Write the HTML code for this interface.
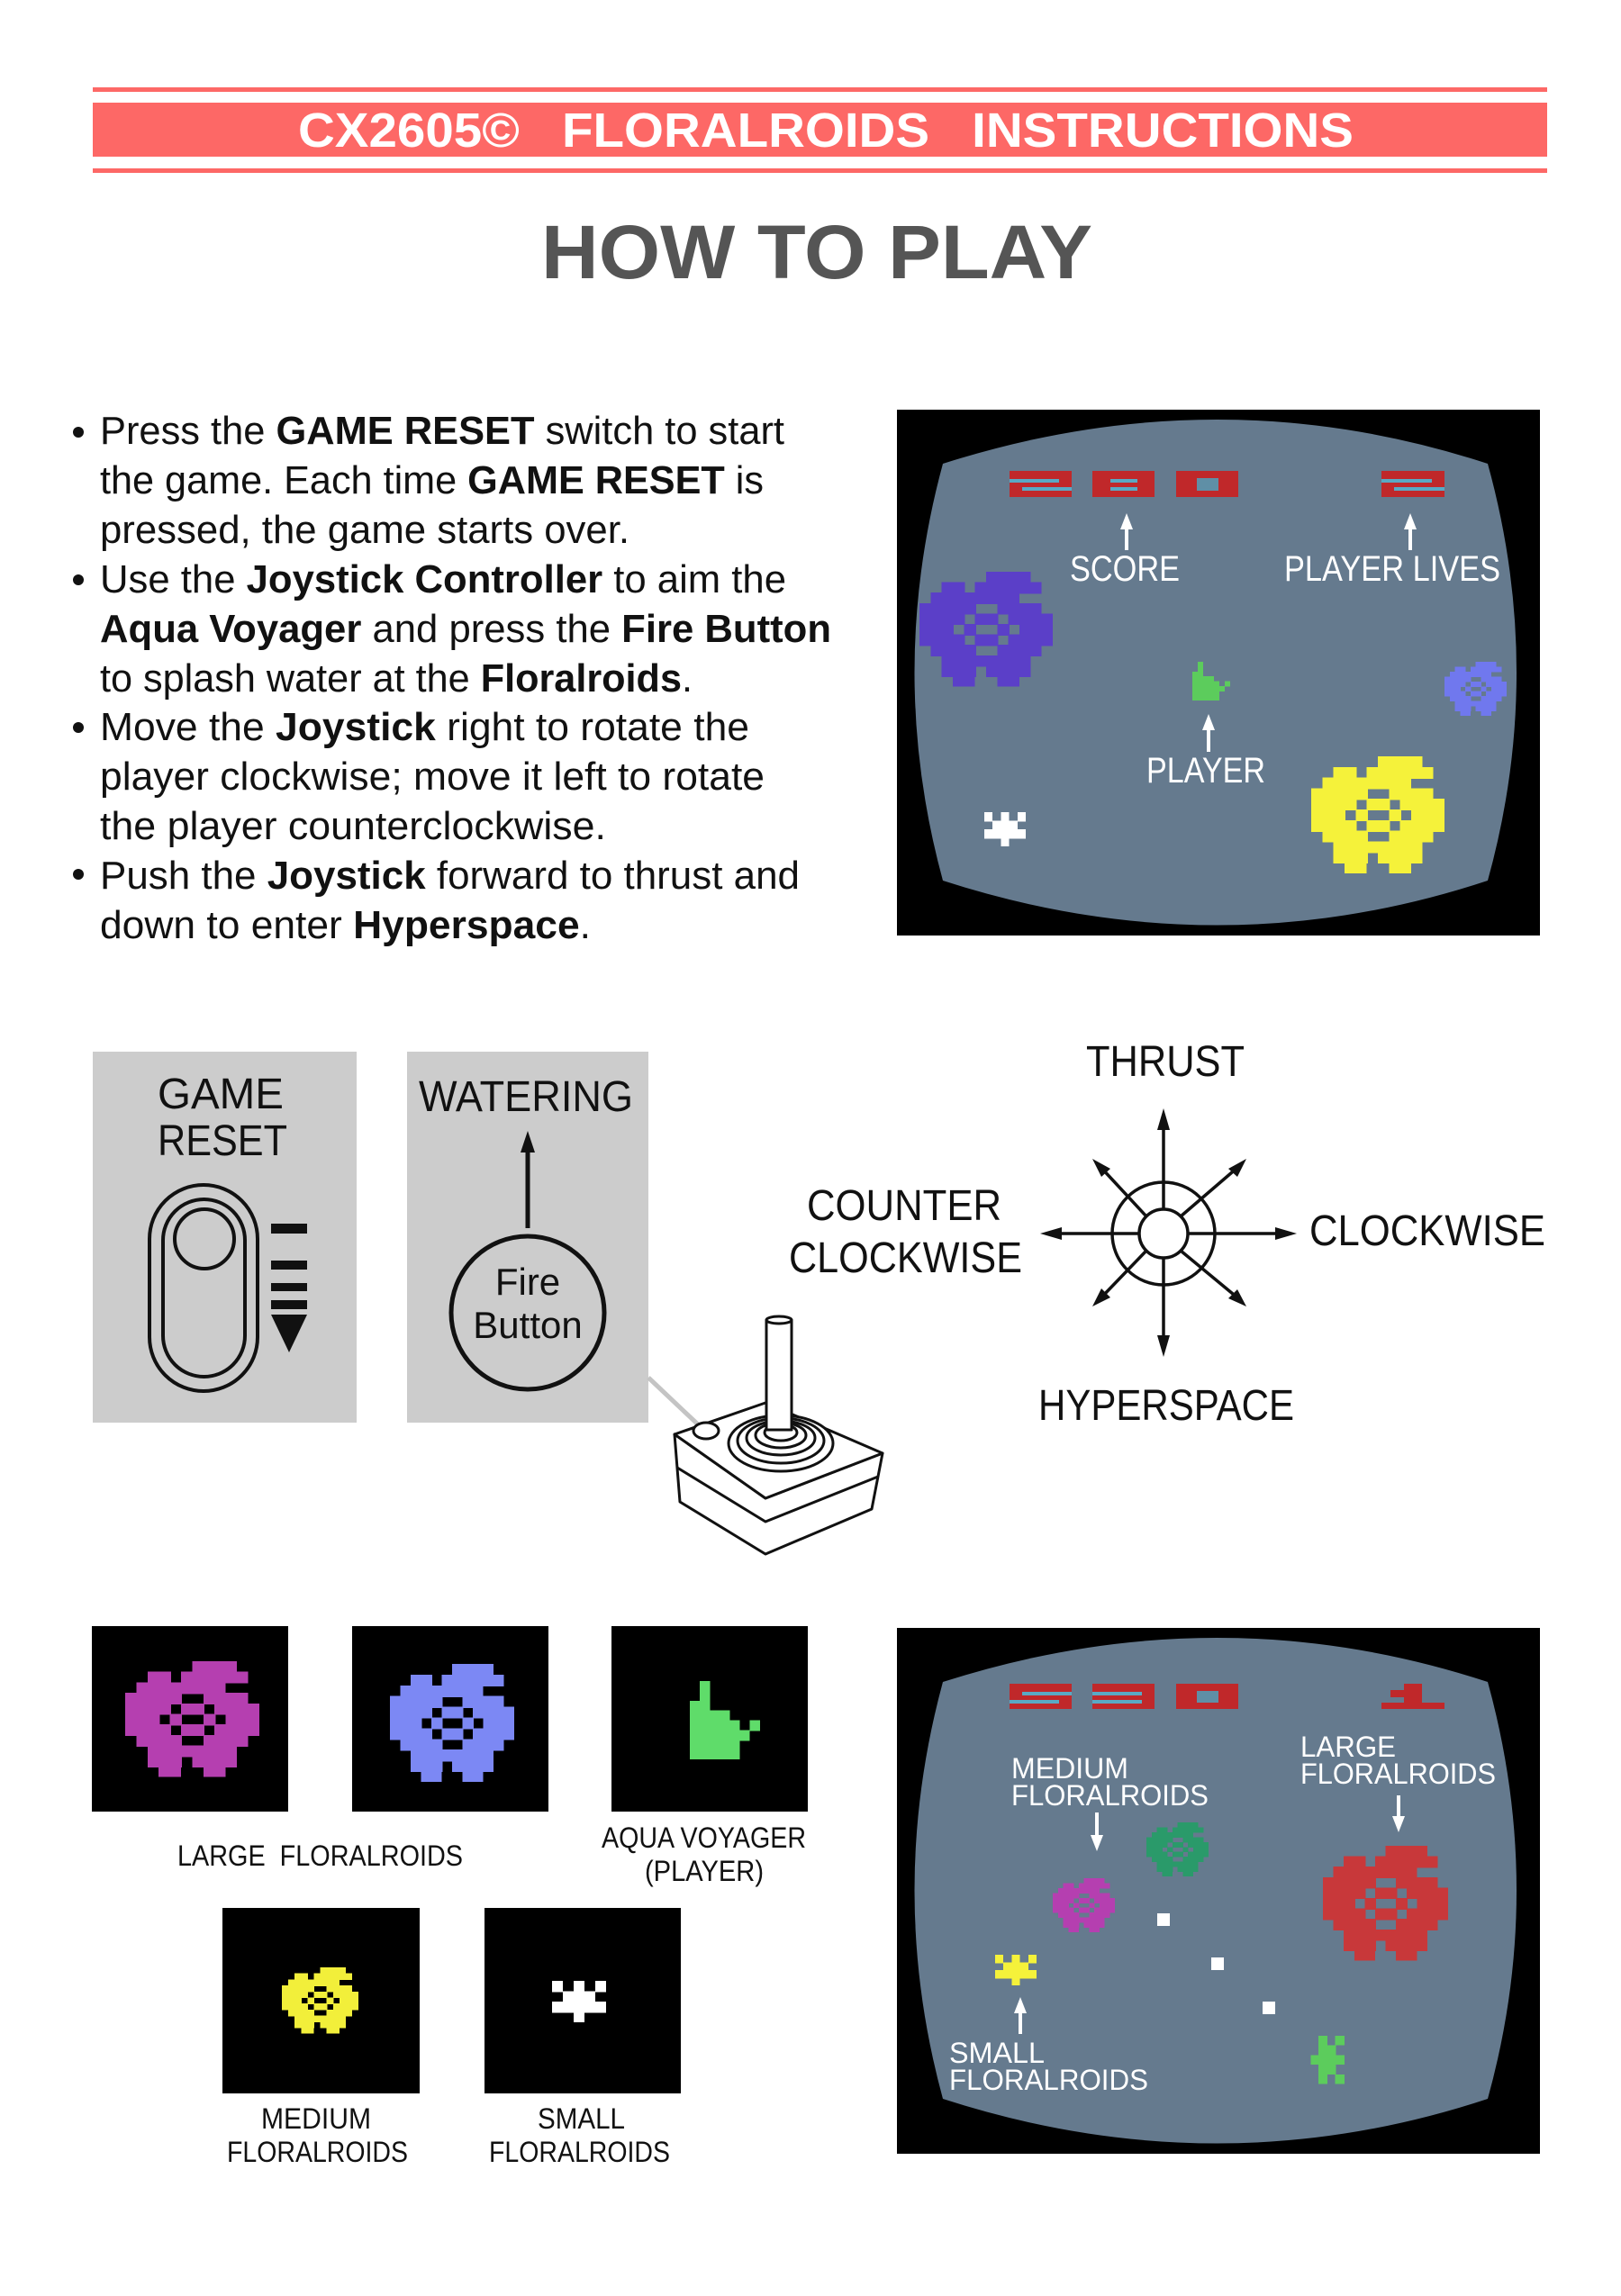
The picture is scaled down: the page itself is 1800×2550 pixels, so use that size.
<!DOCTYPE html>
<html><head><meta charset="utf-8"><style>
html,body{margin:0;padding:0;background:#fff}
svg{display:block}
text{font-family:"Liberation Sans",sans-serif}
</style></head><body>
<svg width="1800" height="2550" viewBox="0 0 1800 2550" xmlns="http://www.w3.org/2000/svg">
<defs>
<g id="fl" shape-rendering="crispEdges">
<rect x="6" y="0" width="4" height="1.1"/>
<rect x="2" y="1" width="2.1" height="1.1"/><rect x="5" y="1" width="6" height="1.1"/>
<rect x="1" y="2" width="8" height="1.1"/>
<rect x="0" y="3" width="5.1" height="1.1"/><rect x="7" y="3" width="4" height="1.1"/>
<rect x="0" y="4" width="4.1" height="1.1"/><rect x="5" y="4" width="2.1" height="1.1"/><rect x="8" y="4" width="4" height="1.1"/>
<rect x="0" y="5" width="3.1" height="1.1"/><rect x="4" y="5" width="1.1" height="1.1"/><rect x="7" y="5" width="1.1" height="1.1"/><rect x="9" y="5" width="3" height="1.1"/>
<rect x="0" y="6" width="4.1" height="1.1"/><rect x="5" y="6" width="2.1" height="1.1"/><rect x="8" y="6" width="4" height="1.1"/>
<rect x="1" y="7" width="4.1" height="1.1"/><rect x="7" y="7" width="4" height="1.1"/>
<rect x="2" y="8" width="8" height="1.1"/>
<rect x="2" y="9" width="3.1" height="1.1"/><rect x="6" y="9" width="4" height="1.1"/>
<rect x="3" y="10" width="2" height="1"/><rect x="7" y="10" width="2" height="1"/>
</g>
<g id="sm" shape-rendering="crispEdges">
<rect x="0" y="0" width="1" height="1.1"/><rect x="2" y="0" width="1" height="1.1"/><rect x="4" y="0" width="1" height="1.1"/>
<rect x="1" y="1" width="3" height="1.1"/><rect x="0" y="2" width="5" height="1.1"/><rect x="2" y="3" width="1" height="1"/>
</g>
<g id="pl" shape-rendering="crispEdges">
<rect x="2" y="0" width="1" height="2.1"/><rect x="1" y="2" width="2" height="1.1"/><rect x="1" y="3" width="4" height="1.1"/>
<rect x="1" y="4" width="5" height="1.1"/><rect x="7" y="4" width="1" height="1.1"/><rect x="1" y="5" width="6" height="1.1"/>
<rect x="1" y="6" width="5" height="2"/>
</g>
<path id="scr" d="M51,60 Q357,-38 656,60 Q720,292 656,523 Q357,622 51,523 Q-12,292 51,60 Z"/>
</defs>

<!-- Header -->
<rect x="103" y="97" width="1615" height="5" fill="#fd6866"/>
<rect x="103" y="114" width="1615" height="60" fill="#fd6866"/>
<rect x="103" y="187" width="1615" height="5" fill="#fd6866"/>
<text x="331" y="163" font-size="54" font-weight="bold" fill="#fff" textLength="1172" lengthAdjust="spacingAndGlyphs" xml:space="preserve">CX2605©   FLORALROIDS   INSTRUCTIONS</text>
<text x="601" y="309" font-size="84" font-weight="bold" fill="#555" textLength="612" lengthAdjust="spacingAndGlyphs">HOW TO PLAY</text>

<!-- Bullets -->
<g font-size="44" fill="#111">
<circle cx="87" cy="480" r="6"/><circle cx="87" cy="644" r="6"/><circle cx="87" cy="808" r="6"/><circle cx="87" cy="971" r="6"/>
<text x="111" y="493" textLength="760" lengthAdjust="spacingAndGlyphs">Press the <tspan font-weight="bold">GAME RESET</tspan> switch to start</text>
<text x="111" y="548" textLength="737" lengthAdjust="spacingAndGlyphs">the game. Each time <tspan font-weight="bold">GAME RESET</tspan> is</text>
<text x="111" y="603" textLength="588" lengthAdjust="spacingAndGlyphs">pressed, the game starts over.</text>
<text x="111" y="658" textLength="762" lengthAdjust="spacingAndGlyphs">Use the <tspan font-weight="bold">Joystick Controller</tspan> to aim the</text>
<text x="111" y="713" textLength="812" lengthAdjust="spacingAndGlyphs"><tspan font-weight="bold">Aqua Voyager</tspan> and press the <tspan font-weight="bold">Fire Button</tspan></text>
<text x="111" y="768" textLength="658" lengthAdjust="spacingAndGlyphs">to splash water at the <tspan font-weight="bold">Floralroids</tspan>.</text>
<text x="111" y="822" textLength="721" lengthAdjust="spacingAndGlyphs">Move the <tspan font-weight="bold">Joystick</tspan> right to rotate the</text>
<text x="111" y="877" textLength="738" lengthAdjust="spacingAndGlyphs">player clockwise; move it left to rotate</text>
<text x="111" y="932" textLength="562" lengthAdjust="spacingAndGlyphs">the player counterclockwise.</text>
<text x="111" y="987" textLength="777" lengthAdjust="spacingAndGlyphs">Push the <tspan font-weight="bold">Joystick</tspan> forward to thrust and</text>
<text x="111" y="1042" textLength="545" lengthAdjust="spacingAndGlyphs">down to enter <tspan font-weight="bold">Hyperspace</tspan>.</text>
</g>

<!-- Screen 1 -->
<g transform="translate(996,455)">
<rect width="714" height="584" fill="#000"/>
<use href="#scr" fill="#657a8e"/>
<g>
<rect x="125" y="68" width="69" height="29" fill="#c0282a"/><rect x="125" y="77" width="55" height="4" fill="#5aa9c4"/><rect x="139" y="86" width="55" height="4" fill="#5aa9c4"/>
<rect x="217" y="68" width="69" height="29" fill="#c0282a"/><rect x="237" y="77" width="30" height="4" fill="#5aa9c4"/><rect x="237" y="86" width="30" height="4" fill="#5aa9c4"/>
<rect x="310" y="68" width="69" height="29" fill="#c0282a"/><rect x="333" y="76" width="24" height="14" fill="#5f8fa6"/>
<rect x="538" y="68" width="70" height="29" fill="#c0282a"/><rect x="538" y="77" width="56" height="4" fill="#5aa9c4"/><rect x="552" y="86" width="56" height="4" fill="#5aa9c4"/>
</g>
<g fill="#fff" stroke="#fff">
<line x1="255" y1="125" x2="255" y2="156" stroke-width="4"/><path d="M248,133 L255,115 L262,133 Z" stroke="none"/>
<line x1="570" y1="125" x2="570" y2="156" stroke-width="4"/><path d="M563,133 L570,115 L577,133 Z" stroke="none"/>
<line x1="346" y1="348" x2="346" y2="380" stroke-width="4"/><path d="M339,356 L346,338 L353,356 Z" stroke="none"/>
</g>
<g fill="#fff" font-size="40">
<text x="192" y="190" textLength="122" lengthAdjust="spacingAndGlyphs">SCORE</text>
<text x="430" y="190" textLength="240" lengthAdjust="spacingAndGlyphs">PLAYER LIVES</text>
<text x="277" y="414" textLength="132" lengthAdjust="spacingAndGlyphs">PLAYER</text>
</g>
<use href="#fl" fill="#5b3fc8" transform="translate(25,180) scale(12.33,11.6)"/>
<use href="#fl" fill="#f5f23a" transform="translate(460,385) scale(12.33,11.8)"/>
<use href="#fl" fill="#7078ee" transform="translate(608,280) scale(5.75,5.45)"/>
<use href="#sm" fill="#fff" transform="translate(97,447) scale(9.2,9.5)"/>
<use href="#pl" fill="#5ccc5c" transform="translate(322,280) scale(6,5.4)"/>
</g>

<!-- Game reset box -->
<rect x="103" y="1168" width="293" height="412" fill="#cccccc"/>
<g font-size="48" fill="#111">
<text x="175" y="1231" textLength="140" lengthAdjust="spacingAndGlyphs">GAME</text>
<text x="175" y="1283" textLength="144" lengthAdjust="spacingAndGlyphs">RESET</text>
</g>
<g fill="none" stroke="#111" stroke-width="4">
<rect x="166" y="1316" width="120" height="229" rx="60"/>
<rect x="181" y="1332" width="91" height="197" rx="45.5"/>
<circle cx="227" cy="1376" r="33"/>
</g>
<g fill="#111">
<rect x="301" y="1359" width="40" height="11"/><rect x="301" y="1400" width="40" height="10"/><rect x="301" y="1425" width="40" height="9"/><rect x="301" y="1444" width="40" height="10"/>
<path d="M301,1460 L341,1460 L321,1502 Z"/>
</g>

<!-- Watering box -->
<rect x="452" y="1168" width="268" height="412" fill="#cccccc"/>
<text x="465" y="1234" font-size="48" fill="#111" textLength="238" lengthAdjust="spacingAndGlyphs">WATERING</text>
<line x1="586" y1="1275" x2="586" y2="1364" stroke="#111" stroke-width="5"/>
<path d="M578,1280 L586,1256 L594,1280 Z" fill="#111"/>
<circle cx="586" cy="1458" r="85" fill="none" stroke="#111" stroke-width="5"/>
<g font-size="42" fill="#111" text-anchor="middle">
<text x="586" y="1438">Fire</text>
<text x="586" y="1486">Button</text>
</g>

<!-- Joystick -->
<line x1="720" y1="1530" x2="775" y2="1582" stroke="#c4c4c4" stroke-width="5"/>
<g fill="#fff" stroke="#111" stroke-width="3" stroke-linejoin="round">
<path d="M749,1593 L755,1668 L850,1726 L968,1676 L980,1614 L850,1664 Z"/>
<path d="M752,1630 L850,1690 L975,1640" fill="none"/>
<path d="M749,1593 L850,1558 L980,1614 L850,1664 Z"/>
<ellipse cx="867" cy="1603" rx="58" ry="31"/>
<ellipse cx="867" cy="1600" rx="48" ry="25"/>
<ellipse cx="867" cy="1597" rx="38" ry="19"/>
<ellipse cx="867" cy="1594" rx="28" ry="14"/>
<ellipse cx="867" cy="1591" rx="18" ry="9"/>
<rect x="851" y="1466" width="28" height="122"/>
<ellipse cx="865" cy="1466" rx="14" ry="4"/>
<ellipse cx="784" cy="1589" rx="14" ry="9"/>
</g>

<!-- Compass -->
<g stroke="#111" stroke-width="3.5" fill="none">
<circle cx="1292" cy="1370" r="57"/>
<circle cx="1292" cy="1370" r="27"/>
<line x1="1292" y1="1343" x2="1292" y2="1245"/>
<line x1="1292" y1="1397" x2="1292" y2="1493"/>
<line x1="1265" y1="1370" x2="1170" y2="1370"/>
<line x1="1319" y1="1370" x2="1425" y2="1370"/>
<line x1="1273" y1="1351" x2="1222" y2="1296"/>
<line x1="1311" y1="1351" x2="1375" y2="1296"/>
<line x1="1273" y1="1389" x2="1222" y2="1442"/>
<line x1="1311" y1="1389" x2="1375" y2="1442"/>
</g>
<g fill="#111">
<path d="M1285,1255 L1292,1231 L1299,1255 Z"/>
<path d="M1285,1483 L1292,1507 L1299,1483 Z"/>
<path d="M1179,1363 L1155,1370 L1179,1377 Z"/>
<path d="M1416,1363 L1440,1370 L1416,1377 Z"/>
<path d="M1213,1287 L1233,1298 L1223,1307 Z"/>
<path d="M1384,1287 L1374,1307 L1364,1298 Z"/>
<path d="M1213,1451 L1223,1431 L1233,1441 Z"/>
<path d="M1384,1451 L1364,1442 L1374,1432 Z"/>
</g>
<g font-size="48" fill="#111">
<text x="1206" y="1195" textLength="176" lengthAdjust="spacingAndGlyphs">THRUST</text>
<text x="896" y="1355" textLength="216" lengthAdjust="spacingAndGlyphs">COUNTER</text>
<text x="876" y="1413" textLength="259" lengthAdjust="spacingAndGlyphs">CLOCKWISE</text>
<text x="1454" y="1383" textLength="262" lengthAdjust="spacingAndGlyphs">CLOCKWISE</text>
<text x="1153" y="1577" textLength="284" lengthAdjust="spacingAndGlyphs">HYPERSPACE</text>
</g>

<!-- Tiles -->
<rect x="102" y="1806" width="218" height="206" fill="#000"/>
<rect x="391" y="1806" width="218" height="206" fill="#000"/>
<rect x="679" y="1806" width="218" height="206" fill="#000"/>
<rect x="247" y="2119" width="219" height="206" fill="#000"/>
<rect x="538" y="2119" width="218" height="206" fill="#000"/>
<use href="#fl" fill="#b53fb0" transform="translate(139,1845) scale(12.4,11.7)"/>
<use href="#fl" fill="#7c88f4" transform="translate(433,1848) scale(11.5,11.9)"/>
<use href="#pl" fill="#5fdc6a" transform="translate(755,1867) scale(11.1,10.9)"/>
<use href="#fl" fill="#f2ef3a" transform="translate(313,2185) scale(7.1,6.7)"/>
<use href="#sm" fill="#fff" transform="translate(613,2200) scale(12,11.5)"/>
<g font-size="32" fill="#111">
<text x="197" y="2072" textLength="317" lengthAdjust="spacingAndGlyphs" xml:space="preserve">LARGE  FLORALROIDS</text>
<text x="668" y="2052" textLength="227" lengthAdjust="spacingAndGlyphs">AQUA VOYAGER</text>
<text x="716" y="2089" textLength="132" lengthAdjust="spacingAndGlyphs">(PLAYER)</text>
<text x="290" y="2364" textLength="122" lengthAdjust="spacingAndGlyphs">MEDIUM</text>
<text x="252" y="2401" textLength="201" lengthAdjust="spacingAndGlyphs">FLORALROIDS</text>
<text x="597" y="2364" textLength="97" lengthAdjust="spacingAndGlyphs">SMALL</text>
<text x="543" y="2401" textLength="201" lengthAdjust="spacingAndGlyphs">FLORALROIDS</text>
</g>

<!-- Screen 2 -->
<g transform="translate(996,1808)">
<rect width="714" height="584" fill="#000"/>
<use href="#scr" fill="#657a8e"/>
<rect x="125" y="62" width="69" height="28" fill="#c0282a"/><rect x="139" y="71" width="55" height="4" fill="#5aa9c4"/><rect x="125" y="80" width="55" height="4" fill="#5aa9c4"/>
<rect x="217" y="62" width="69" height="28" fill="#c0282a"/><rect x="217" y="71" width="55" height="4" fill="#5aa9c4"/><rect x="217" y="80" width="55" height="4" fill="#5aa9c4"/>
<rect x="310" y="62" width="69" height="28" fill="#c0282a"/><rect x="333" y="70" width="24" height="13" fill="#5f8fa6"/>
<g fill="#c0282a"><rect x="538" y="83" width="70" height="7"/><rect x="563" y="62" width="20" height="28"/><rect x="548" y="69" width="16" height="8"/></g>
<g fill="#fff" stroke="#fff">
<line x1="222" y1="205" x2="222" y2="238" stroke-width="4"/><path d="M215,230 L222,248 L229,230 Z" stroke="none"/>
<line x1="557" y1="186" x2="557" y2="217" stroke-width="4"/><path d="M550,209 L557,227 L564,209 Z" stroke="none"/>
<line x1="137" y1="420" x2="137" y2="451" stroke-width="4"/><path d="M130,428 L137,410 L144,428 Z" stroke="none"/>
</g>
<g fill="#fff" font-size="32">
<text x="448" y="143" textLength="106" lengthAdjust="spacingAndGlyphs">LARGE</text>
<text x="448" y="173" textLength="217" lengthAdjust="spacingAndGlyphs">FLORALROIDS</text>
<text x="127" y="167" textLength="130" lengthAdjust="spacingAndGlyphs">MEDIUM</text>
<text x="127" y="197" textLength="219" lengthAdjust="spacingAndGlyphs">FLORALROIDS</text>
<text x="58" y="483" textLength="106" lengthAdjust="spacingAndGlyphs">SMALL</text>
<text x="58" y="513" textLength="221" lengthAdjust="spacingAndGlyphs">FLORALROIDS</text>
</g>
<use href="#fl" fill="#2a9a6a" transform="translate(277,216) scale(5.75,5.45)"/>
<use href="#fl" fill="#b53fb0" transform="translate(173,278) scale(5.75,5.45)"/>
<use href="#fl" fill="#c8383a" transform="translate(473,242) scale(11.6,11.6)"/>
<use href="#sm" fill="#f5f23a" transform="translate(109,363) scale(9.2,8.5)"/>
<use href="#sm" fill="#5ccc5c" transform="translate(497,453) rotate(90) scale(10.7,9.4)"/>
<g fill="#fff">
<rect x="289" y="317" width="14" height="14"/><rect x="349" y="366" width="14" height="14"/><rect x="406" y="415" width="14" height="14"/>
</g>
</g>
</svg>
</body></html>
